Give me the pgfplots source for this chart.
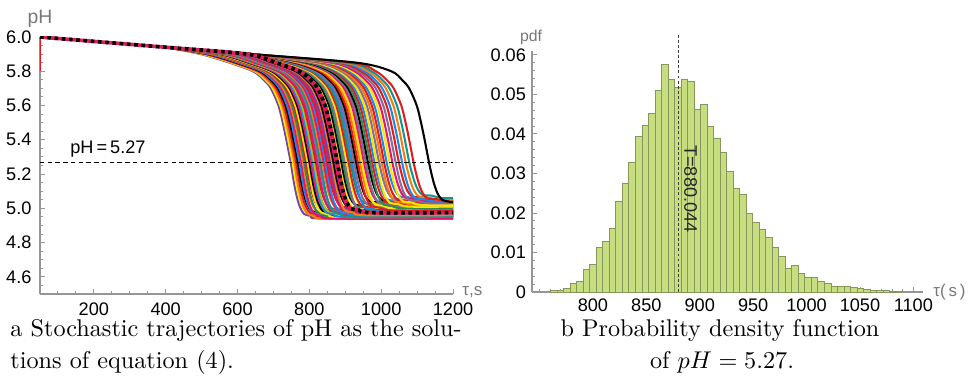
\documentclass[border=0pt]{standalone}
\usepackage{fontspec}
\usepackage{pgfplots}
\pgfplotsset{compat=1.18}
\newfontfamily\lsans{Liberation Sans}
\definecolor{cR}{RGB}{228,26,28}
\definecolor{cP}{RGB}{230,20,110}
\definecolor{cO}{RGB}{245,125,20}
\definecolor{cY}{RGB}{250,230,0}
\definecolor{cB}{RGB}{30,136,229}
\definecolor{cG}{RGB}{46,139,87}
\definecolor{cL}{RGB}{150,200,40}
\definecolor{cV}{RGB}{110,70,170}
\definecolor{cM}{RGB}{130,110,150}
\definecolor{cT}{RGB}{20,150,140}
\definecolor{barfill}{RGB}{199,222,128}
\definecolor{baredge}{RGB}{135,150,90}
\definecolor{axgray}{RGB}{150,150,150}
\definecolor{labgray}{RGB}{120,120,120}
\definecolor{dotpink}{RGB}{225,30,90}
\pgfplotsset{myax/.style={scale only axis, axis x line*=bottom, axis y line*=left,
  axis line style={draw=axgray, line width=0.5pt, -}, tick align=inside,
  tick style={draw=axgray, line width=0.4pt}, major tick length=2pt, minor tick length=1.1pt,
  tick label style={font=\lsans\fontsize{7.5}{9}\selectfont, text=black}, scaled ticks=false},
  cv/.style={smooth, line width=0.85pt}}
\begin{document}
\begin{tikzpicture}
\path[use as bounding box] (0pt,0pt) rectangle (401.02pt,-159.42pt);
\begin{axis}[myax, at={(16.52pt,-121.42pt)}, anchor=south west, width=170.57pt, height=106.14pt,
  xmin=50, xmax=1200, ymin=4.5, ymax=6.0,
  xtick={200,400,600,800,1000,1200}, xticklabels={200,400,600,800,1000,1200},
  minor xtick={100,150,250,300,350,450,500,550,650,700,750,850,900,950,1050,1100,1150},
  ytick={4.6,4.8,5.0,5.2,5.4,5.6,5.8,6.0}, yticklabels={4.6,4.8,5.0,5.2,5.4,5.6,5.8,6.0},
  minor ytick={4.55,4.65,4.7,4.75,4.85,4.9,4.95,5.05,5.1,5.15,5.25,5.3,5.35,5.45,5.5,5.55,5.65,5.7,5.75,5.85,5.9,5.95}]
\addplot[cv,cV] coordinates {(400,5.94)(498,5.9)(578,5.85)(643,5.8)(673,5.75)(693,5.7)(714,5.6)(726,5.5)(736,5.4)(748,5.27)(756,5.164)(764,5.079)(773,5.013)(786,4.966)(808,4.955)(838,4.94)(1200,4.94)};
\addplot[cv,cY] coordinates {(400,5.94)(503,5.9)(583,5.85)(648,5.8)(678,5.75)(698,5.7)(719,5.6)(731,5.5)(741,5.4)(753,5.27)(761,5.168)(769,5.084)(778,5.02)(791,4.976)(813,4.965)(843,4.95)(1200,4.95)};
\addplot[cv,cO] coordinates {(400,5.94)(508,5.9)(588,5.85)(653,5.8)(683,5.75)(703,5.7)(724,5.6)(736,5.5)(746,5.4)(758,5.27)(766,5.164)(774,5.079)(783,5.013)(796,4.966)(818,4.955)(848,4.94)(1200,4.94)};
\addplot[cv,cR] coordinates {(400,5.94)(513,5.9)(593,5.85)(658,5.8)(688,5.75)(708,5.7)(729,5.6)(741,5.5)(751,5.4)(763,5.27)(771,5.168)(779,5.084)(788,5.02)(801,4.976)(823,4.965)(853,4.95)(1200,4.95)};
\addplot[cv,black] coordinates {(400,5.94)(518,5.9)(598,5.85)(663,5.8)(693,5.75)(713,5.7)(734,5.6)(746,5.5)(756,5.4)(768,5.27)(776,5.171)(784,5.09)(793,5.028)(806,4.985)(828,4.975)(858,4.96)(1200,4.96)};
\addplot[cv,cB] coordinates {(400,5.94)(522,5.9)(602,5.85)(667,5.8)(697,5.75)(717,5.7)(738,5.6)(750,5.5)(760,5.4)(772,5.27)(780,5.168)(788,5.084)(797,5.02)(810,4.976)(832,4.965)(862,4.95)(1200,4.95)};
\addplot[cv,cP] coordinates {(400,5.94)(527,5.9)(607,5.85)(672,5.8)(702,5.75)(722,5.7)(743,5.6)(755,5.5)(765,5.4)(777,5.27)(785,5.164)(793,5.079)(802,5.013)(815,4.966)(837,4.955)(867,4.94)(1200,4.94)};
\addplot[cv,cO] coordinates {(400,5.94)(532,5.9)(612,5.85)(677,5.8)(707,5.75)(727,5.7)(748,5.6)(760,5.5)(770,5.4)(782,5.27)(790,5.171)(798,5.09)(807,5.028)(820,4.985)(842,4.975)(872,4.96)(1200,4.96)};
\addplot[cv,cG] coordinates {(400,5.94)(536,5.9)(616,5.85)(681,5.8)(711,5.75)(731,5.7)(752,5.6)(764,5.5)(774,5.4)(786,5.27)(794,5.168)(802,5.084)(811,5.02)(824,4.976)(846,4.965)(876,4.95)(1200,4.95)};
\addplot[cv,cR] coordinates {(400,5.94)(541,5.9)(621,5.85)(686,5.8)(716,5.75)(736,5.7)(757,5.6)(769,5.5)(779,5.4)(791,5.27)(799,5.174)(807,5.096)(816,5.036)(829,4.994)(851,4.985)(881,4.97)(1200,4.97)};
\addplot[cv,cY] coordinates {(400,5.94)(545,5.9)(625,5.85)(690,5.8)(720,5.75)(740,5.7)(761,5.6)(773,5.5)(783,5.4)(795,5.27)(803,5.168)(811,5.084)(820,5.02)(833,4.976)(855,4.965)(885,4.95)(1200,4.95)};
\addplot[cv,black] coordinates {(400,5.94)(550,5.9)(630,5.85)(695,5.8)(725,5.75)(745,5.7)(766,5.6)(778,5.5)(788,5.4)(800,5.27)(808,5.171)(816,5.09)(825,5.028)(838,4.985)(860,4.975)(890,4.96)(1200,4.96)};
\addplot[cv,cP] coordinates {(400,5.94)(554,5.9)(634,5.85)(699,5.8)(729,5.75)(749,5.7)(770,5.6)(782,5.5)(792,5.4)(804,5.27)(812,5.174)(820,5.096)(829,5.036)(842,4.994)(864,4.985)(894,4.97)(1200,4.97)};
\addplot[cv,cB] coordinates {(400,5.94)(559,5.9)(639,5.85)(704,5.8)(734,5.75)(754,5.7)(775,5.6)(787,5.5)(797,5.4)(809,5.27)(817,5.168)(825,5.084)(834,5.02)(847,4.976)(869,4.965)(899,4.95)(1200,4.95)};
\addplot[cv,cL] coordinates {(400,5.94)(563,5.9)(643,5.85)(708,5.8)(738,5.75)(758,5.7)(779,5.6)(791,5.5)(801,5.4)(813,5.27)(821,5.171)(829,5.09)(838,5.028)(851,4.985)(873,4.975)(903,4.96)(1200,4.96)};
\addplot[cv,cR] coordinates {(400,5.94)(568,5.9)(648,5.85)(713,5.8)(743,5.75)(763,5.7)(784,5.6)(796,5.5)(806,5.4)(818,5.27)(826,5.177)(834,5.102)(843,5.044)(856,5.003)(878,4.995)(908,4.98)(1200,4.98)};
\addplot[cv,cP] coordinates {(400,5.94)(572,5.9)(652,5.85)(717,5.8)(747,5.75)(767,5.7)(788,5.6)(800,5.5)(810,5.4)(822,5.27)(830,5.171)(838,5.09)(847,5.028)(860,4.985)(882,4.975)(912,4.96)(1200,4.96)};
\addplot[cv,cM] coordinates {(400,5.94)(577,5.9)(657,5.85)(722,5.8)(752,5.75)(772,5.7)(793,5.6)(805,5.5)(815,5.4)(827,5.27)(835,5.174)(843,5.096)(852,5.036)(865,4.994)(887,4.985)(917,4.97)(1200,4.97)};
\addplot[cv,cT] coordinates {(400,5.94)(581,5.9)(661,5.85)(726,5.8)(756,5.75)(776,5.7)(797,5.6)(809,5.5)(819,5.4)(831,5.27)(839,5.168)(847,5.084)(856,5.02)(869,4.976)(891,4.965)(921,4.95)(1200,4.95)};
\addplot[cv,cO] coordinates {(400,5.94)(586,5.9)(666,5.85)(731,5.8)(761,5.75)(781,5.7)(802,5.6)(814,5.5)(824,5.4)(836,5.27)(844,5.177)(852,5.102)(861,5.044)(874,5.003)(896,4.995)(926,4.98)(1200,4.98)};
\addplot[cv,cP] coordinates {(400,5.94)(590,5.9)(670,5.85)(735,5.8)(765,5.75)(785,5.7)(806,5.6)(818,5.5)(828,5.4)(840,5.27)(848,5.174)(856,5.096)(865,5.036)(878,4.994)(900,4.985)(930,4.97)(1200,4.97)};
\addplot[cv,cB] coordinates {(400,5.94)(595,5.9)(675,5.85)(740,5.8)(770,5.75)(790,5.7)(811,5.6)(823,5.5)(833,5.4)(845,5.27)(853,5.171)(861,5.09)(870,5.028)(883,4.985)(905,4.975)(935,4.96)(1200,4.96)};
\addplot[cv,cR] coordinates {(400,5.94)(599,5.9)(679,5.85)(744,5.8)(774,5.75)(794,5.7)(815,5.6)(827,5.5)(837,5.4)(849,5.27)(857,5.18)(865,5.108)(874,5.052)(887,5.012)(909,5.005)(939,4.99)(1200,4.99)};
\addplot[cv,cP] coordinates {(400,5.94)(604,5.9)(684,5.85)(749,5.8)(779,5.75)(799,5.7)(820,5.6)(832,5.5)(842,5.4)(854,5.27)(862,5.174)(870,5.096)(879,5.036)(892,4.994)(914,4.985)(944,4.97)(1200,4.97)};
\addplot[cv,cV] coordinates {(400,5.94)(608,5.9)(688,5.85)(753,5.8)(783,5.75)(803,5.7)(824,5.6)(836,5.5)(846,5.4)(858,5.27)(866,5.177)(874,5.102)(883,5.044)(896,5.003)(918,4.995)(948,4.98)(1200,4.98)};
\addplot[cv,cO] coordinates {(400,5.94)(613,5.9)(693,5.85)(758,5.8)(788,5.75)(808,5.7)(829,5.6)(841,5.5)(851,5.4)(863,5.27)(871,5.171)(879,5.09)(888,5.028)(901,4.985)(923,4.975)(953,4.96)(1200,4.96)};
\addplot[cv,black] coordinates {(400,5.94)(617,5.9)(697,5.85)(762,5.8)(792,5.75)(812,5.7)(833,5.6)(845,5.5)(855,5.4)(867,5.27)(875,5.18)(883,5.108)(892,5.052)(905,5.012)(927,5.005)(957,4.99)(1200,4.99)};
\addplot[cv,cP] coordinates {(400,5.94)(622,5.9)(702,5.85)(767,5.8)(797,5.75)(817,5.7)(838,5.6)(850,5.5)(860,5.4)(872,5.27)(880,5.177)(888,5.102)(897,5.044)(910,5.003)(932,4.995)(962,4.98)(1200,4.98)};
\addplot[cv,cY] coordinates {(400,5.94)(634,5.9)(714,5.85)(779,5.8)(809,5.75)(829,5.7)(850,5.6)(862,5.5)(872,5.4)(884,5.27)(892,5.177)(900,5.102)(909,5.044)(922,5.003)(944,4.995)(974,4.98)(1200,4.98)};
\addplot[cv,black] coordinates {(400,5.94)(638,5.9)(719,5.85)(784,5.8)(814,5.75)(834,5.7)(855,5.6)(867,5.5)(877,5.4)(889,5.27)(897,5.184)(905,5.113)(914,5.059)(927,5.022)(949,5.015)(979,5)(1200,5)};
\addplot[cv,cG] coordinates {(400,5.94)(638,5.9)(724,5.85)(789,5.8)(819,5.75)(839,5.7)(860,5.6)(872,5.5)(882,5.4)(894,5.27)(902,5.18)(910,5.108)(919,5.052)(932,5.012)(954,5.005)(984,4.99)(1200,4.99)};
\addplot[cv,cM] coordinates {(400,5.94)(638,5.9)(729,5.85)(794,5.8)(824,5.75)(844,5.7)(865,5.6)(877,5.5)(887,5.4)(899,5.27)(907,5.174)(915,5.096)(924,5.036)(937,4.994)(959,4.985)(989,4.97)(1200,4.97)};
\addplot[cv,cY] coordinates {(400,5.94)(638,5.9)(734,5.85)(799,5.8)(829,5.75)(849,5.7)(870,5.6)(882,5.5)(892,5.4)(904,5.27)(912,5.184)(920,5.113)(929,5.059)(942,5.022)(964,5.015)(994,5)(1200,5)};
\addplot[cv,cR] coordinates {(400,5.94)(638,5.9)(739,5.85)(804,5.8)(834,5.75)(854,5.7)(875,5.6)(887,5.5)(897,5.4)(909,5.27)(917,5.18)(925,5.108)(934,5.052)(947,5.012)(969,5.005)(999,4.99)(1200,4.99)};
\addplot[cv,cG] coordinates {(400,5.94)(638,5.9)(744,5.85)(809,5.8)(839,5.75)(859,5.7)(880,5.6)(892,5.5)(902,5.4)(914,5.27)(922,5.187)(930,5.119)(939,5.067)(952,5.031)(974,5.025)(1004,5.01)(1200,5.01)};
\addplot[cv,cB] coordinates {(400,5.94)(638,5.9)(749,5.85)(814,5.8)(844,5.75)(864,5.7)(885,5.6)(897,5.5)(907,5.4)(919,5.27)(927,5.177)(935,5.102)(944,5.044)(957,5.003)(979,4.995)(1009,4.98)(1200,4.98)};
\addplot[cv,cM] coordinates {(400,5.94)(638,5.9)(754,5.85)(819,5.8)(849,5.75)(869,5.7)(890,5.6)(902,5.5)(912,5.4)(924,5.27)(932,5.184)(940,5.113)(949,5.059)(962,5.022)(984,5.015)(1014,5)(1200,5)};
\addplot[cv,black] coordinates {(400,5.94)(638,5.9)(760,5.85)(825,5.8)(855,5.75)(875,5.7)(896,5.6)(908,5.5)(918,5.4)(930,5.27)(938,5.19)(946,5.125)(955,5.075)(968,5.04)(990,5.035)(1020,5.02)(1200,5.02)};
\addplot[cv,cR] coordinates {(400,5.94)(638,5.9)(765,5.85)(830,5.8)(860,5.75)(880,5.7)(901,5.6)(913,5.5)(923,5.4)(935,5.27)(943,5.18)(951,5.108)(960,5.052)(973,5.012)(995,5.005)(1025,4.99)(1200,4.99)};
\addplot[cv,cO] coordinates {(400,5.94)(638,5.9)(771,5.85)(836,5.8)(866,5.75)(886,5.7)(907,5.6)(919,5.5)(929,5.4)(941,5.27)(949,5.187)(957,5.119)(966,5.067)(979,5.031)(1001,5.025)(1031,5.01)(1200,5.01)};
\addplot[cv,cY] coordinates {(400,5.94)(638,5.9)(776,5.85)(841,5.8)(871,5.75)(891,5.7)(912,5.6)(924,5.5)(934,5.4)(946,5.27)(954,5.184)(962,5.113)(971,5.059)(984,5.022)(1006,5.015)(1036,5)(1200,5)};
\addplot[cv,cP] coordinates {(400,5.94)(638,5.9)(782,5.85)(847,5.8)(877,5.75)(897,5.7)(918,5.6)(930,5.5)(940,5.4)(952,5.27)(960,5.19)(968,5.125)(977,5.075)(990,5.04)(1012,5.035)(1042,5.02)(1200,5.02)};
\addplot[cv,cM] coordinates {(400,5.94)(638,5.9)(787,5.85)(852,5.8)(882,5.75)(902,5.7)(923,5.6)(935,5.5)(945,5.4)(957,5.27)(965,5.187)(973,5.119)(982,5.067)(995,5.031)(1017,5.025)(1047,5.01)(1200,5.01)};
\addplot[cv,black] coordinates {(400,5.94)(638,5.9)(793,5.85)(858,5.8)(888,5.75)(908,5.7)(929,5.6)(941,5.5)(951,5.4)(963,5.27)(971,5.193)(979,5.131)(988,5.083)(1001,5.049)(1023,5.045)(1053,5.03)(1200,5.03)};
\addplot[cv,cG] coordinates {(400,5.94)(638,5.9)(799,5.85)(864,5.8)(894,5.75)(914,5.7)(935,5.6)(947,5.5)(957,5.4)(969,5.27)(977,5.184)(985,5.113)(994,5.059)(1007,5.022)(1029,5.015)(1059,5)(1200,5)};
\addplot[cv,cR] coordinates {(400,5.94)(638,5.9)(805,5.85)(870,5.8)(900,5.75)(920,5.7)(941,5.6)(953,5.5)(963,5.4)(975,5.27)(983,5.19)(991,5.125)(1000,5.075)(1013,5.04)(1035,5.035)(1065,5.02)(1200,5.02)};
\addplot[cv,cB] coordinates {(400,5.94)(638,5.9)(811,5.85)(876,5.8)(906,5.75)(926,5.7)(947,5.6)(959,5.5)(969,5.4)(981,5.27)(989,5.193)(997,5.131)(1006,5.083)(1019,5.049)(1041,5.045)(1071,5.03)(1200,5.03)};
\addplot[cv,cY] coordinates {(400,5.94)(638,5.9)(817,5.85)(882,5.8)(912,5.75)(932,5.7)(953,5.6)(965,5.5)(975,5.4)(987,5.27)(995,5.187)(1003,5.119)(1012,5.067)(1025,5.031)(1047,5.025)(1077,5.01)(1200,5.01)};
\addplot[cv,cM] coordinates {(400,5.94)(638,5.9)(824,5.85)(889,5.8)(919,5.75)(939,5.7)(960,5.6)(972,5.5)(982,5.4)(994,5.27)(1002,5.196)(1010,5.137)(1019,5.091)(1032,5.058)(1054,5.055)(1084,5.04)(1200,5.04)};
\addplot[cv,cO] coordinates {(400,5.94)(638,5.9)(831,5.85)(896,5.8)(926,5.75)(946,5.7)(967,5.6)(979,5.5)(989,5.4)(1001,5.27)(1009,5.19)(1017,5.125)(1026,5.075)(1039,5.04)(1061,5.035)(1091,5.02)(1200,5.02)};
\addplot[cv,cR] coordinates {(400,5.94)(638,5.9)(838,5.85)(903,5.8)(933,5.75)(953,5.7)(974,5.6)(986,5.5)(996,5.4)(1008,5.27)(1016,5.193)(1024,5.131)(1033,5.083)(1046,5.049)(1068,5.045)(1098,5.03)(1200,5.03)};
\addplot[cv,cB] coordinates {(400,5.94)(638,5.9)(845,5.85)(910,5.8)(940,5.75)(960,5.7)(981,5.6)(993,5.5)(1003,5.4)(1015,5.27)(1023,5.2)(1031,5.142)(1040,5.098)(1053,5.068)(1075,5.065)(1105,5.05)(1200,5.05)};
\addplot[cv,cY] coordinates {(400,5.94)(638,5.9)(853,5.85)(918,5.8)(948,5.75)(968,5.7)(989,5.6)(1001,5.5)(1011,5.4)(1023,5.27)(1031,5.19)(1039,5.125)(1048,5.075)(1061,5.04)(1083,5.035)(1113,5.02)(1200,5.02)};
\addplot[cv,cP] coordinates {(400,5.94)(638,5.9)(861,5.85)(926,5.8)(956,5.75)(976,5.7)(997,5.6)(1009,5.5)(1019,5.4)(1031,5.27)(1039,5.196)(1047,5.137)(1056,5.091)(1069,5.058)(1091,5.055)(1121,5.04)(1200,5.04)};
\addplot[cv,cM] coordinates {(400,5.94)(638,5.9)(870,5.85)(935,5.8)(965,5.75)(985,5.7)(1006,5.6)(1018,5.5)(1028,5.4)(1040,5.27)(1048,5.193)(1056,5.131)(1065,5.083)(1078,5.049)(1100,5.045)(1130,5.03)(1200,5.03)};
\addplot[cv,cR] coordinates {(400,5.94)(638,5.9)(879,5.85)(944,5.8)(974,5.75)(994,5.7)(1015,5.6)(1027,5.5)(1037,5.4)(1049,5.27)(1057,5.2)(1065,5.142)(1074,5.098)(1087,5.068)(1109,5.065)(1139,5.05)(1200,5.05)};
\addplot[cv,cB] coordinates {(400,5.94)(638,5.9)(888,5.85)(953,5.8)(983,5.75)(1003,5.7)(1024,5.6)(1036,5.5)(1046,5.4)(1058,5.27)(1066,5.196)(1074,5.137)(1083,5.091)(1096,5.058)(1118,5.055)(1148,5.04)(1200,5.04)};
\addplot[cv,cO] coordinates {(400,5.94)(638,5.9)(898,5.85)(963,5.8)(993,5.75)(1013,5.7)(1034,5.6)(1046,5.5)(1056,5.4)(1068,5.27)(1076,5.2)(1084,5.142)(1093,5.098)(1106,5.068)(1128,5.065)(1158,5.05)(1200,5.05)};
\addplot[cv,cT] coordinates {(400,5.94)(638,5.9)(908,5.85)(973,5.8)(1003,5.75)(1023,5.7)(1044,5.6)(1056,5.5)(1066,5.4)(1078,5.27)(1086,5.203)(1094,5.148)(1103,5.106)(1116,5.077)(1138,5.075)(1168,5.06)(1200,5.06)};
\addplot[cv,cR] coordinates {(400,5.94)(638,5.9)(920,5.85)(985,5.8)(1015,5.75)(1035,5.7)(1056,5.6)(1068,5.5)(1078,5.4)(1090,5.27)(1098,5.196)(1106,5.137)(1115,5.091)(1128,5.058)(1150,5.055)(1180,5.04)(1200,5.04)};
\addplot[cv,black] coordinates {(400,5.94)(638,5.9)(932,5.85)(1028,5.8)(1058,5.75)(1078,5.7)(1099,5.6)(1111,5.5)(1121,5.4)(1133,5.27)(1141,5.193)(1149,5.131)(1158,5.083)(1171,5.049)(1200,5.035)};
\addplot[black, line width=0.4pt, dash pattern=on 1.8pt off 1.4pt] coordinates {(50,5.27)(1200,5.27)};
\addplot[cR, line width=0.9pt] coordinates {(50,5.8)(50,6.0)};
\addplot[smooth, dotpink, line width=1.5pt] coordinates {(50,6)(225,5.97)(400,5.94)(628,5.9)(708,5.85)(773,5.8)(803,5.75)(823,5.7)(844,5.6)(856,5.5)(866,5.4)(878,5.27)(886,5.1755)(894,5.099)(903,5.04)(916,4.9985)(938,4.99)(968,4.975)(1200,4.975)};
\addplot[smooth, black, line width=1.5pt, dash pattern=on 1.5pt off 1.5pt] coordinates {(50,6)(225,5.97)(400,5.94)(628,5.9)(708,5.85)(773,5.8)(803,5.75)(823,5.7)(844,5.6)(856,5.5)(866,5.4)(878,5.27)(886,5.1755)(894,5.099)(903,5.04)(916,4.9985)(938,4.99)(968,4.975)(1200,4.975)};
\node[anchor=west, inner sep=0, font=\lsans\fontsize{7.5}{9}\selectfont] at (axis cs:133,5.344) {pH\,=\,5.27};
\end{axis}
\begin{axis}[myax, at={(219.72pt,-120.6pt)}, anchor=south west, width=161.48pt, height=99.53pt,
  xmin=743, xmax=1109, ymin=0, ymax=0.061, clip=false,
  xtick={800,850,900,950,1000,1050,1100}, xticklabels={800,850,900,950,1000,1050,1100},
  minor xtick={750,760,770,780,790,810,820,830,840,860,870,880,890,910,920,930,940,960,970,980,990,1010,1020,1030,1040,1060,1070,1080,1090,1100},
  ytick={0,0.01,0.02,0.03,0.04,0.05,0.06}, yticklabels={0,0.01,0.02,0.03,0.04,0.05,0.06},
  minor ytick={0.002,0.004,0.006,0.008,0.012,0.014,0.016,0.018,0.022,0.024,0.026,0.028,0.032,0.034,0.036,0.038,0.042,0.044,0.046,0.048,0.052,0.054,0.056,0.058},
  yticklabel style={xshift=1pt}, xticklabel style={yshift=0.6pt}]
\addplot[ybar interval, fill=barfill, draw=baredge, line width=0.35pt] coordinates {
(760.5,0.0004)(766.6,0.0005)(772.7,0.0008)(778.8,0.0022)(784.9,0.0027)(791.0,0.0057)(797.1,0.0070)(803.2,0.0112)(809.3,0.0128)(815.4,0.0160)
(821.5,0.0229)(827.6,0.0275)(833.7,0.0328)(839.8,0.0393)(845.9,0.0422)(852.0,0.0453)(858.1,0.0510)(864.2,0.0576)(870.3,0.0537)(876.4,0.0517)
(882.5,0.0539)(888.6,0.0534)(894.7,0.0463)(900.8,0.0475)(906.9,0.0420)(913.0,0.0390)(919.1,0.0354)(925.2,0.0305)(931.3,0.0262)(937.4,0.0246)
(943.5,0.0198)(949.6,0.0175)(955.7,0.0158)(961.8,0.0137)(967.9,0.0114)(974.0,0.0089)(980.1,0.0059)(986.2,0.0067)(992.3,0.0046)(998.4,0.0038)
(1004.5,0.0038)(1010.6,0.0027)(1016.7,0.0021)(1022.8,0.0015)(1028.9,0.0013)(1035.0,0.0013)(1041.1,0.0012)(1047.2,0.0008)(1053.3,0.0006)(1059.4,0.0005)
(1065.5,0.0003)(1071.6,0.0003)(1077.7,0.0001)(1083.8,0.0001)(1089.9,0)};
\addplot[black!75, line width=0.7pt, dash pattern=on 1.2pt off 0.9pt] coordinates {(880.044,0)(880.044,0.0656)};
\node[rotate=-90, inner sep=0, font=\lsans\fontsize{7.5}{9}\selectfont, text=black!85] at (axis cs:891.5,0.0261) {T=880.044};
\end{axis}
\node[text=labgray, font=\lsans\fontsize{8}{9}\selectfont, inner sep=0] at (16.52pt,-7.85pt) {pH};
\node[text=labgray, font=\lsans\fontsize{7}{8}\selectfont, anchor=west, inner sep=0] at (190.8pt,-120.6pt) {τ,s};
\node[text=labgray, font=\lsans\fontsize{6.5}{8}\selectfont, inner sep=0] at (219.3pt,-15.28pt) {pdf};
\node[text=labgray, font=\lsans\fontsize{7}{8}\selectfont, anchor=west, inner sep=0] at (385.3pt,-120.6pt) {τ(\,s\,)};
\node[anchor=base west, inner sep=0] at (4.13pt,-138.77pt) {a Stochastic trajectories of pH as the solu-};
\node[anchor=base west, inner sep=0] at (4.13pt,-151.99pt) {tions of equation (4).};
\node[anchor=base, inner sep=0] at (297.36pt,-138.77pt) {b Probability density function};
\node[anchor=base, inner sep=0] at (298.19pt,-151.99pt) {of $pH = 5.27$.};
\end{tikzpicture}
\end{document}
